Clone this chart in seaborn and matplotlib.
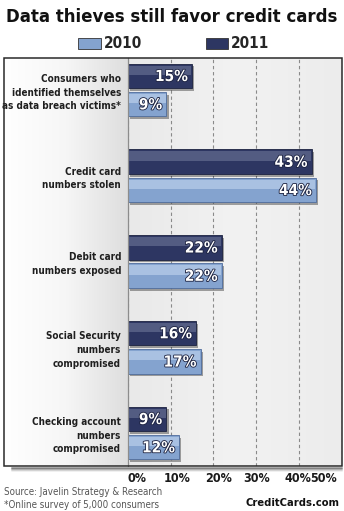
import numpy as np
import pandas as pd
import matplotlib
matplotlib.use("Agg")
import matplotlib.pyplot as plt
import seaborn as sns
from matplotlib import font_manager as fm
from matplotlib.patches import Rectangle, Patch
from matplotlib.colors import LinearSegmentedColormap
import matplotlib.patheffects as pe
import matplotlib.transforms as mtransforms

# ---------------- data ----------------
categories = [
    "Consumers who\nidentified themselves\nas data breach victims*",
    "Credit card\nnumbers stolen",
    "Debit card\nnumbers exposed",
    "Social Security\nnumbers\ncompromised",
    "Checking account\nnumbers\ncompromised",
]
values_2011 = [15, 43, 22, 16, 9]
values_2010 = [9, 44, 22, 17, 12]
series_names = ["2011", "2010"]
legend_order = ["2010", "2011"]
x_ticks = [0, 10, 20, 30, 40, 50]
x_tick_labels = ["0%", "10%", "20%", "30%", "40%", "50%"]
title_text = "Data thieves still favor credit cards"
source_lines = ["Source: Javelin Strategy & Research", "*Online survey of 5,000 consumers"]
brand_text = "CreditCards.com"

colors = {"2011": "#2d3662", "2010": "#84a3cf"}
highlight = {"2011": "#535c82", "2010": "#a9c1e2"}
edges = {"2011": "#1c2240", "2010": "#4f6c9c"}

df = pd.DataFrame({
    "category": categories * 2,
    "year": ["2011"] * len(categories) + ["2010"] * len(categories),
    "value": values_2011 + values_2010,
})


# ---------------- fonts ----------------
def find_font(bold):
    prefs = ["liberationsansnarrow", "dejavusanscondensed", "robotocondensed",
             "opensans_condensed", "opensanscondensed", "notosanscondensed"]
    found = []
    for f in fm.fontManager.ttflist:
        fn = f.fname.lower().replace("-", "").replace(" ", "")
        if "italic" in fn or "oblique" in fn:
            continue
        if not ("condensed" in fn or "narrow" in fn):
            continue
        isbold = "bold" in fn and "semibold" not in fn and "extrabold" not in fn
        if isbold != bold:
            continue
        rank = next((i for i, p in enumerate(prefs) if p in fn), len(prefs))
        found.append((rank, f.fname))
    if found:
        found.sort()
        return fm.FontProperties(fname=found[0][1])
    return fm.FontProperties(family="Liberation Sans", weight="bold" if bold else "normal")


FB = find_font(True)
FR = find_font(False)

def fp(base, size):
    p = base.copy()
    p.set_size(size)
    return p

sns.set_theme(style="white")

W, H = 344, 511
fig = plt.figure(figsize=(W / 100, H / 100), dpi=100)
fig.patch.set_facecolor("white")

def fx(px):
    return px / W

def fy(py):
    return 1 - py / H

panel_l, panel_r, panel_t, panel_b = 4, 341.5, 58, 466
plot_l = 128

# label area background gradient
bg = fig.add_axes([fx(panel_l), fy(panel_b), fx(plot_l - panel_l), (panel_b - panel_t) / H], zorder=0)
grad = np.linspace(0, 1, 256)[None, :]
cm_lbl = LinearSegmentedColormap.from_list("lbl", ["#ffffff", "#f6f6f6", "#dedede"])
bg.imshow(grad, aspect="auto", cmap=cm_lbl, extent=[0, 1, 0, 1])
bg.set_axis_off()

ax = fig.add_axes([fx(plot_l), fy(panel_b), fx(panel_r - plot_l), (panel_b - panel_t) / H], zorder=1)
ax.set_facecolor("#ededed")

sns.barplot(data=df, y="category", x="value", hue="year", hue_order=series_names,
            order=categories, palette=colors, orient="h", width=0.66, gap=0.14,
            saturation=1, edgecolor="#1c2240", linewidth=0.6, legend=False, ax=ax)

# plot-area gradient
cm_plot = LinearSegmentedColormap.from_list("plt", ["#e9e9e9", "#f2f2f2", "#ececec"])
ax.imshow(grad, aspect="auto", cmap=cm_plot, extent=[0, 50, 4.385, -0.373], zorder=0)

ax.set_xlim(0, 50)
ax.set_ylim(4.385, -0.373)

# bar styling: shadow, highlight, value labels
vals = {"2011": values_2011, "2010": values_2010}
for cont, name in zip(ax.containers, series_names):
    for bar, v in zip(cont.patches, vals[name]):
        bar.set_edgecolor(edges[name])
        bar.set_path_effects([pe.SimplePatchShadow(offset=(1.5, -2), shadow_rgbFace="black", alpha=0.35), pe.Normal()])
        bar.set_zorder(2)
        x0, y0, w, h = bar.get_x(), bar.get_y(), bar.get_width(), bar.get_height()
        ax.add_patch(Rectangle((x0 + 0.15, y0 + h * 0.08), w - 0.3, h * 0.38,
                               facecolor=highlight[name], edgecolor="none", zorder=3))
        ax.annotate(f"{v}%", xy=(x0 + w, y0 + h / 2), xytext=(-3, -0.5), textcoords="offset points",
                    ha="right", va="center", color="white", fontproperties=fp(FB, 11), zorder=4,
                    path_effects=[pe.withStroke(linewidth=1.2, foreground="#1c2240")])

# ticks and grid
ax.set_xticks(x_ticks)
ax.set_xticklabels(x_tick_labels, fontproperties=fp(FB, 9), color="#1a1a1a")
ax.tick_params(axis="x", length=0, pad=4)
ax.tick_params(axis="y", length=0, pad=5)
ax.xaxis.grid(True, linestyle=(0, (3, 2.5)), color="#8a8a8a", linewidth=0.8)
ax.set_axisbelow(True)
ax.set_xlabel("")
ax.set_ylabel("")
for s in ["top", "right", "bottom"]:
    ax.spines[s].set_visible(False)
ax.spines["left"].set_color("#8c8c8c")
ax.spines["left"].set_linewidth(0.9)

# panel border and shadow
for i, a in enumerate([0.35, 0.22, 0.12, 0.06]):
    fig.add_artist(plt.Line2D([fx(panel_l + 8), fx(panel_r)], [fy(panel_b + 1.5 + i * 1.3)] * 2,
                              color="black", alpha=a, linewidth=1.4, zorder=0.5))
fig.add_artist(Rectangle((fx(panel_l), fy(panel_b)), fx(panel_r - panel_l), (panel_b - panel_t) / H,
                         facecolor="none", edgecolor="#2a2a2a", linewidth=1.1, zorder=5,
                         transform=fig.transFigure))

# title
t = fig.text(0.5, fy(17), title_text, ha="center", va="center", fontproperties=fp(FB, 20), color="#111111")

# legend
handles = [Patch(facecolor=colors[n], edgecolor="#333333", linewidth=0.6) for n in legend_order]
fig.legend(handles, legend_order, loc="center", bbox_to_anchor=(fx(174), fy(44)), ncol=2,
           frameon=False, prop=fp(FB, 11), handlelength=1.45, handleheight=0.75,
           handletextpad=0.2, columnspacing=4.2, borderaxespad=0, borderpad=0)

# footer
fig.text(fx(4), fy(492), source_lines[0], ha="left", va="center", fontproperties=fp(FR, 7), color="#555555")
fig.text(fx(4), fy(505), source_lines[1], ha="left", va="center", fontproperties=fp(FR, 7), color="#555555")
fig.text(fx(340), fy(503), brand_text, ha="right", va="center", fontproperties=fp(FB, 8), color="#111111")

# fit title and category labels to the reference widths
fig.canvas.draw()
r = fig.canvas.get_renderer()
wpx = t.get_window_extent(r).width
t.set_fontproperties(fp(FB, 20 * 332 / wpx))
ylabs = ax.get_yticklabels()
for l in ylabs:
    l.set_fontproperties(fp(FB, 10))
    l.set_color("#1f1f1f")
    l.set_ha("right")
    l.set_linespacing(1.45)
maxw = max(l.get_window_extent(r).width for l in ylabs)
new_size = 10 * 117 / maxw
for l in ylabs:
    l.set_fontproperties(fp(FB, new_size))

# tick labels nudged to the reference's label placement
shifts_px = [9, 6, 5, 1, -1, -18]
for lab, s in zip(ax.get_xticklabels(), shifts_px):
    lab.set_transform(lab.get_transform() + mtransforms.ScaledTranslation(s / 100, 0, fig.dpi_scale_trans))

fig.savefig("out.png", dpi=100, facecolor="white")
